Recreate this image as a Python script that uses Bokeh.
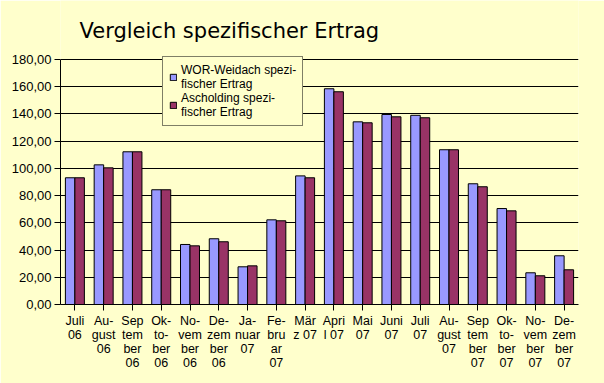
from bokeh.plotting import figure
from bokeh.models import Range1d, FactorRange, Legend, LegendItem, FixedTicker, Label
from bokeh.transform import dodge
from bokeh.embed import file_html
from bokeh.resources import INLINE

months = ["Juli 06", "August 06", "September 06", "Oktober 06", "November 06",
          "Dezember 06", "Januar 07", "Februar 07", "März 07", "April 07",
          "Mai 07", "Juni 07", "Juli 07", "August 07", "September 07",
          "Oktober 07", "November 07", "Dezember 07"]
month_labels = ["Juli\n06", "Au-\ngust\n06", "Sep\ntem\nber\n06", "Ok-\nto-\nber\n06",
                "No-\nvem\nber\n06", "De-\nzem\nber\n06", "Ja-\nnuar\n07",
                "Fe-\nbru\nar\n07", "Mär\nz 07", "Apri\nl 07", "Mai\n07", "Juni\n07",
                "Juli\n07", "Au-\ngust\n07", "Sep\ntem\nber\n07", "Ok-\nto-\nber\n07",
                "No-\nvem\nber\n07", "De-\nzem\nber\n07"]
wor_weidach = [93.1, 102.6, 112.2, 84.3, 44.1, 48.3, 27.7, 62.2, 94.5, 158.5,
               134.2, 139.6, 139.0, 113.7, 88.7, 70.5, 23.3, 35.8]
ascholding = [93.1, 100.4, 112.2, 84.3, 43.1, 46.1, 28.4, 61.5, 93.1, 156.3,
              133.5, 137.9, 137.2, 113.7, 86.5, 68.8, 21.1, 25.5]
y_ticks = [0, 20, 40, 60, 80, 100, 120, 140, 160, 180]
series_names = ["WOR-Weidach spezi-\nfischer Ertrag", "Ascholding spezi-\nfischer Ertrag"]
title_text = "Vergleich spezifischer Ertrag"

BG = "#FFFFCC"
FONT = "Liberation Sans"

# layout (pixels): value axis 0..180 spans 245 px; the frame also holds the
# 59 px title band above it, so the range top is extended accordingly
AXIS_PX = 245
TOP_PX = 59
y_max = y_ticks[-1]
y_top = y_max * (AXIS_PX + TOP_PX) / AXIS_PX

source = dict(m=month_labels, a=wor_weidach, b=ascholding)

p = figure(x_range=FactorRange(factors=month_labels, range_padding=0),
           y_range=Range1d(0, y_top),
           width=604, height=383, output_backend="svg", toolbar_location=None,
           min_border_left=60, min_border_right=26, min_border_top=0,
           min_border_bottom=79)
p.background_fill_color = BG
p.border_fill_color = BG
p.outline_line_color = None

r1 = p.vbar(x=dodge("m", -0.165, range=p.x_range), top="a", width=0.33,
            source=source, fill_color="#9999FF", line_color="black", line_width=1)
r2 = p.vbar(x=dodge("m", 0.165, range=p.x_range), top="b", width=0.33,
            source=source, fill_color="#993366", line_color="black", line_width=1)

p.xgrid.grid_line_color = None
p.ygrid.grid_line_color = "black"
p.ygrid.grid_line_width = 1
p.ygrid.ticker = FixedTicker(ticks=y_ticks)

p.yaxis.ticker = FixedTicker(ticks=y_ticks)
p.yaxis.bounds = (0, y_max)
p.yaxis.major_label_overrides = {t: f"{t},00" for t in y_ticks}
p.yaxis.minor_tick_line_color = None
p.yaxis.major_tick_in = 0
p.yaxis.major_tick_out = 6
p.yaxis.major_label_standoff = 3
p.yaxis.axis_line_color = "black"
p.yaxis.major_label_text_font_size = "13px"

p.xaxis.major_tick_in = 0
p.xaxis.major_tick_out = 6
p.xaxis.major_label_standoff = 3
p.xaxis.axis_line_color = "black"
p.xaxis.major_label_text_font_size = "12.5px"
p.xaxis.major_label_text_line_height = 1.0

for ax in (p.xaxis, p.yaxis):
    ax.major_label_text_font = FONT
    ax.major_label_text_color = "black"

legend = Legend(items=[LegendItem(label=series_names[0], renderers=[r1]),
                       LegendItem(label=series_names[1], renderers=[r2])],
                location=(102, 178), orientation="vertical")
legend.border_line_color = "black"
legend.background_fill_color = BG
legend.background_fill_alpha = 1
legend.label_text_font = FONT
legend.label_text_font_size = "12px"
legend.label_text_color = "black"
legend.glyph_width = 8
legend.glyph_height = 8
legend.label_standoff = 4
legend.padding = 6
legend.spacing = 0
legend.margin = 0
p.add_layout(legend, "center")

title = Label(x=19, y=274, x_units="screen", y_units="screen", text=title_text,
              text_font="DejaVu Sans", text_font_size="21px", text_color="black",
              text_baseline="alphabetic", text_align="left")
p.add_layout(title)

html = file_html(p, INLINE)
html = html.replace("<body>", '<body style="background-color:#FFFFCC">', 1)
open("out.html", "w").write(html)
